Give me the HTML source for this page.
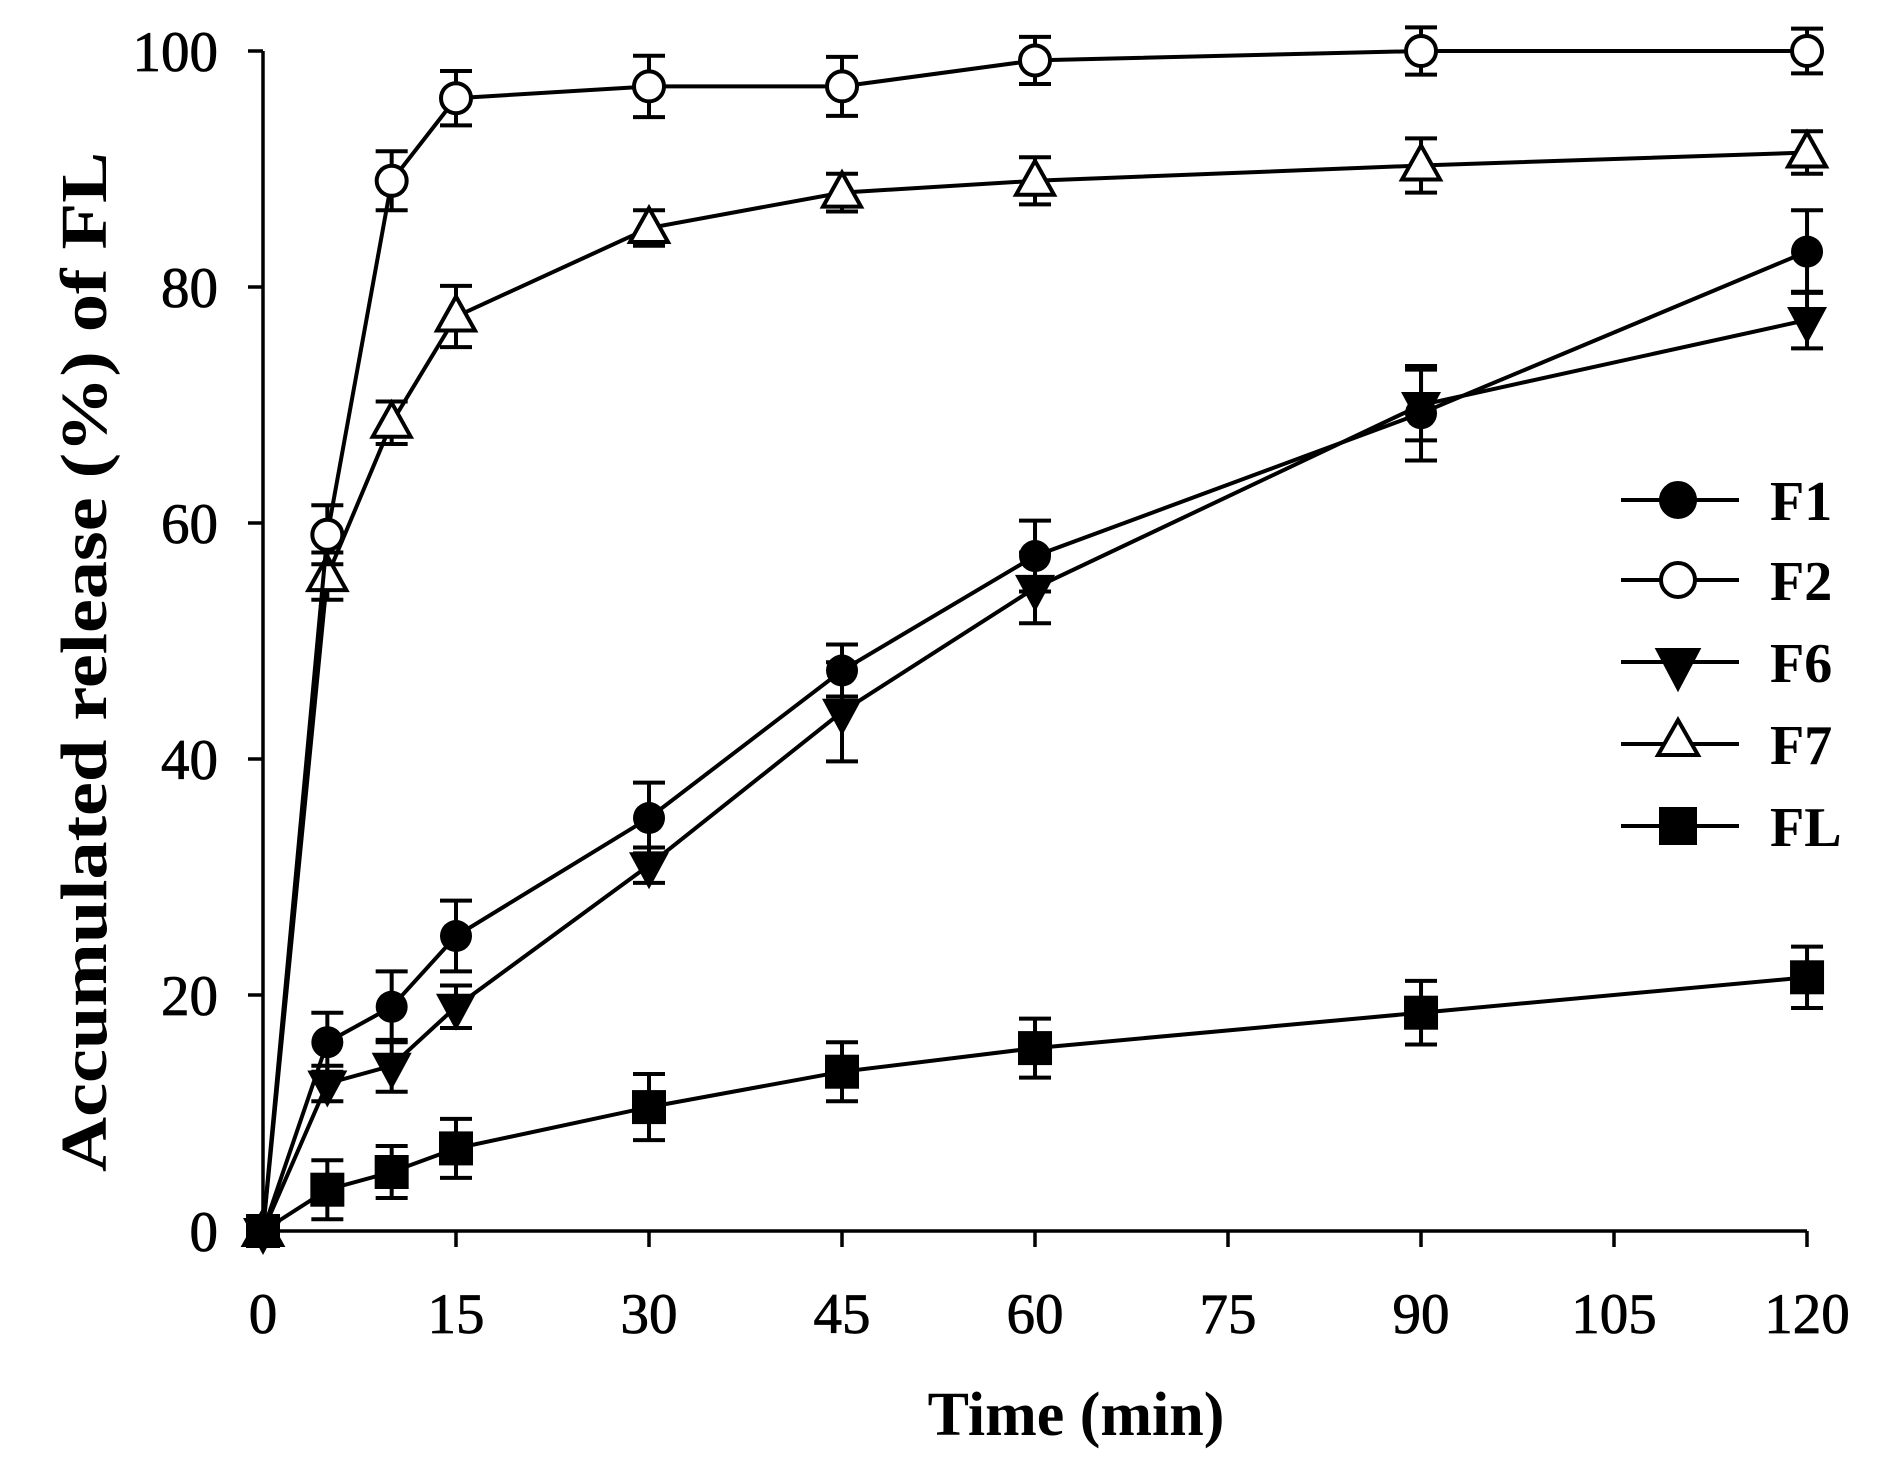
<!DOCTYPE html>
<html><head><meta charset="utf-8"><style>html,body{margin:0;padding:0;background:#fff}</style></head>
<body>
<svg id="s" width="1886" height="1476" xmlns="http://www.w3.org/2000/svg" font-family="Liberation Serif, serif">
<rect width="1886" height="1476" fill="#fff"/>
<g stroke="#000" stroke-width="3.5" fill="none">
<path d="M263,51 V1231 H1807"/>
<path d="M248,51H263 M248,287H263 M248,523H263 M248,759H263 M248,995H263 M248,1231H263"/>
<path d="M263,1231v16 M456,1231v16 M649,1231v16 M842,1231v16 M1035,1231v16 M1228,1231v16 M1421,1231v16 M1614,1231v16 M1807,1231v16"/>
</g>
<g font-size="57" text-anchor="end" stroke="#000" stroke-width="0.8">
<text x="218" y="71">100</text><text x="218" y="307">80</text><text x="218" y="543">60</text><text x="218" y="779">40</text><text x="218" y="1015">20</text><text x="218" y="1251">0</text>
</g>
<g font-size="57" text-anchor="middle" stroke="#000" stroke-width="0.8">
<text x="263" y="1333">0</text><text x="456" y="1333">15</text><text x="649" y="1333">30</text><text x="842" y="1333">45</text><text x="1035" y="1333">60</text><text x="1228" y="1333">75</text><text x="1421" y="1333">90</text><text x="1614" y="1333">105</text><text x="1807" y="1333">120</text>
</g>
<text x="1076" y="1435" font-size="62" font-weight="bold" text-anchor="middle">Time (min)</text>
<text transform="translate(106,662) rotate(-90)" font-size="66" font-weight="bold" text-anchor="middle" textLength="1020" lengthAdjust="spacingAndGlyphs">Accumulated release (%) of FL</text>
<g id="data"></g>
<g stroke="#000" stroke-width="4">
<path d="M1621,500H1739 M1621,580H1739 M1621,662H1739 M1621,744H1739 M1621,826H1739"/>
<circle cx="1678" cy="500" r="17" fill="#000"/>
<circle cx="1678" cy="580" r="17" fill="#fff"/>
<path d="M1658,650 L1698,650 L1678,688Z" fill="#000"/>
<path d="M1658,755 L1698,755 L1678,720Z" fill="#fff"/>
<rect x="1661" y="809" width="34" height="34" fill="#000"/>
</g>
<g font-size="56" font-weight="bold">
<text x="1770" y="520">F1</text><text x="1770" y="600">F2</text><text x="1770" y="682">F6</text><text x="1770" y="764">F7</text><text x="1770" y="846">FL</text>
</g>
</svg>
<script>
var T=[0,5,10,15,30,45,60,90,120];
var S=[
 {m:'sq',v:[0,3.5,5,7,10.5,13.5,15.5,18.5,21.5],e:[0,2.5,2.2,2.5,2.8,2.5,2.5,2.7,2.6]},
 {m:'dt',v:[0,12.5,14,19,31,44,54.5,70,77.2],e:[0,1.5,2.2,1.8,1.5,4.2,3,3,2.4]},
 {m:'fc',v:[0,16,19,25,35,47.5,57.2,69.3,83],e:[0,2.5,3,3,3,2.2,3,4,3.5]},
 {m:'ut',v:[0,55.5,68.5,77.5,85,88,89,90.3,91.4],e:[0,2,1.8,2.6,1.5,1.6,2,2.3,1.8]},
 {m:'oc',v:[0,59,89,96,97,97,99.2,100,100],e:[0,2.5,2.5,2.3,2.6,2.5,2,2,1.9]}
];
var X=t=>263+t*12.867, Y=v=>1231-v*11.8, out='';
S.forEach(s=>{
 var p=T.map((t,i)=>X(t).toFixed(1)+','+Y(s.v[i]).toFixed(1)).join(' ');
 out+='<polyline points="'+p+'" fill="none" stroke="#000" stroke-width="4"/>';
 T.forEach((t,i)=>{var x=X(t),y=Y(s.v[i]),d=s.e[i]*11.8;
  if(d>0) out+='<path d="M'+x+','+(y-d)+'V'+(y+d)+'M'+(x-16)+','+(y-d)+'h32M'+(x-16)+','+(y+d)+'h32" stroke="#000" stroke-width="4"/>';
  if(s.m=='sq') out+='<rect x="'+(x-17)+'" y="'+(y-17)+'" width="34" height="34" fill="#000"/>';
  if(s.m=='fc') out+='<circle cx="'+x+'" cy="'+y+'" r="16" fill="#000"/>';
  if(s.m=='oc') out+='<circle cx="'+x+'" cy="'+y+'" r="15" fill="#fff" stroke="#000" stroke-width="4"/>';
  if(s.m=='dt') out+='<path d="M'+(x-20)+','+(y-13)+'H'+(x+20)+'L'+x+','+(y+24)+'Z" fill="#000"/>';
  if(s.m=='ut') out+='<path d="M'+(x-19)+','+(y+14)+'H'+(x+19)+'L'+x+','+(y-20)+'Z" fill="#fff" stroke="#000" stroke-width="4"/>';
 });
});
out+='<rect x="'+(263-17)+'" y="'+(1231-17)+'" width="34" height="34" fill="#000"/>';
document.getElementById('data').innerHTML=out;
</script>
</body></html>
